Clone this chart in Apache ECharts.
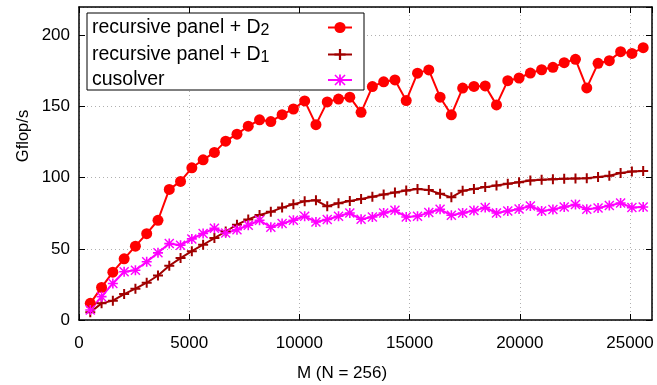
<!DOCTYPE html>
<html>
<head>
<meta charset="utf-8">
<script src="https://cdn.jsdelivr.net/npm/echarts@6/dist/echarts.min.js"></script>
<style>html,body{margin:0;padding:0;background:#fff}#c{width:657px;height:385px}</style>
</head>
<body>
<div id="c"></div>
<script>
const M = [512,1024,1536,2048,2560,3072,3584,4096,4608,5120,5632,6144,6656,7168,7680,8192,8704,9216,9728,10240,10752,11264,11776,12288,12800,13312,13824,14336,14848,15360,15872,16384,16896,17408,17920,18432,18944,19456,19968,20480,20992,21504,22016,22528,23040,23552,24064,24576,25088,25600];
const d2 = [11.7,22.9,33.6,43.0,51.9,60.7,70.1,91.8,97.4,107.0,112.6,117.8,125.7,130.6,136.2,140.7,139.5,144.3,148.3,154.0,137.3,153.3,155.3,156.6,146.0,164.1,167.4,168.7,154.2,173.5,175.8,156.6,144.2,163.0,164.2,164.5,151.2,168.2,170.1,173.6,175.9,177.6,180.9,183.2,163.1,180.4,182.3,188.6,187.4,191.4];
const d1 = [5.5,11.7,13.6,18.2,22.0,26.2,31.3,38.1,43.5,48.4,52.9,57.6,62.2,67.0,70.7,73.8,76.0,79.0,81.3,83.4,84.1,79.9,82.0,83.6,85.0,86.6,88.2,89.6,91.0,92.1,91.3,88.8,86.2,90.8,92.0,93.4,94.6,95.8,96.9,98.1,98.6,99.0,99.3,99.5,99.7,100.5,101.4,103.3,104.4,104.7];
const cus = [7.0,16.4,25.7,33.9,35.0,40.9,47.2,53.7,52.6,57.0,60.8,64.5,61.2,63.4,66.6,70.1,65.2,67.8,70.1,72.9,68.9,70.6,72.9,75.2,70.8,72.4,75.2,77.1,72.4,73.0,75.5,77.8,73.6,75.2,76.9,79.0,75.2,76.6,78.0,80.1,76.6,77.6,79.4,81.1,77.8,78.7,80.4,82.2,79.0,79.4];
const xTicks = [0,5000,10000,15000,20000,25000];
const yTicks = [0,50,100,150,200];
const names = ['recursive panel + D2','recursive panel + D1','cusolver'];
const legendMain = ['recursive panel + D','recursive panel + D','cusolver'];
const legendSub = ['2','1',''];

const FONT = 'Liberation Sans';
const LEG_FS = 19.5, SUB_FS = 16, TEXT_W = 231;
const ctx = document.createElement('canvas').getContext('2d');
function tw(t, s){ ctx.font = s + 'px "' + FONT + '"'; return ctx.measureText(t).width; }
const rich = {
  a:{fontSize:LEG_FS, lineHeight:22, fontFamily:FONT, color:'#000'},
  s:{fontSize:SUB_FS, lineHeight:16, padding:[7,0,0,0], fontFamily:FONT, color:'#000'}
};
const labelMap = {};
names.forEach((n,i)=>{
  const w = TEXT_W - tw(legendMain[i], LEG_FS) - (legendSub[i] ? tw(legendSub[i], SUB_FS) : 0);
  rich['p'+i] = {width:Math.max(1,w), fontSize:LEG_FS, lineHeight:22};
  labelMap[n] = '{a|' + legendMain[i] + '}' + (legendSub[i] ? '{s|' + legendSub[i] + '}' : '') + '{p' + i + '| }';
});

const plusPath = 'path://M4,0h2v10h-2zM0,4h10v2h-10z';
const starPath = 'path://M4.2,0h1.6v10h-1.6zM0,4.2h10v1.6h-10zM1,0L10,9L9,10L0,1ZM9,0L10,1L1,10L0,9Z';

function pairs(ys){ return M.map((x,i)=>[x, ys[i]]); }

const chart = echarts.init(document.getElementById('c'), null, {renderer:'canvas'});
const gridLine = {show:true, lineStyle:{color:'#b0b0b0', type:[1,3], width:1}};
const axisLineStyle = {show:true, onZero:false, lineStyle:{color:'#000', width:1.5}};
const tickStyle = {show:true, inside:true, length:6, lineStyle:{color:'#000'}};
chart.setOption({
  animation:false,
  backgroundColor:'#fff',
  textStyle:{fontFamily:FONT},
  grid:{left:79, right:5, top:7, bottom:65, outerBoundsMode:'none'},
  graphic:[
    {type:'text', x:23, y:136, rotation:Math.PI/2, style:{text:'Gflop/s', fontSize:16.5, fontFamily:FONT, fill:'#000', align:'center', verticalAlign:'middle'}},
    {type:'text', x:342, y:373, style:{text:'M (N = 256)', fontSize:17, fontFamily:FONT, fill:'#000', align:'center', verticalAlign:'middle'}}
  ],
  legend:{
    data:names, orient:'vertical', align:'right', left:87, top:13,
    backgroundColor:'#fff', borderColor:'#000', borderWidth:1, borderRadius:0,
    padding:[3,11,0,5], itemWidth:24, itemHeight:14, itemGap:4,
    formatter:(n)=>labelMap[n],
    textStyle:{fontSize:LEG_FS, color:'#000', fontFamily:FONT, rich:rich}
  },
  xAxis:[
    {type:'value', min:0, max:26000, interval:5000, position:'bottom',
     axisLine:axisLineStyle, axisTick:tickStyle,
     axisLabel:{fontSize:17, color:'#000', margin:15, showMaxLabel:false, fontFamily:FONT,
       formatter:(v)=> xTicks.includes(v) ? String(v) : ''},
     splitLine:gridLine},
    {type:'value', min:0, max:26000, interval:5000, position:'top',
     axisLine:axisLineStyle, axisTick:tickStyle, axisLabel:{show:false}, splitLine:{show:false}}
  ],
  yAxis:[
    {type:'value', min:0, max:220, interval:50, position:'left',
     axisLine:axisLineStyle, axisTick:tickStyle,
     axisLabel:{fontSize:17, color:'#000', margin:9, showMaxLabel:false, fontFamily:FONT,
       formatter:(v)=> yTicks.includes(v) ? String(v) : ''},
     splitLine:gridLine},
    {type:'value', min:0, max:220, interval:50, position:'right',
     axisLine:axisLineStyle, axisTick:tickStyle, axisLabel:{show:false}, splitLine:{show:false}}
  ],
  series:[
    {name:names[0], type:'line', data:pairs(d2), symbol:'circle', symbolSize:11, showAllSymbol:true,
     itemStyle:{color:'#ff0000'}, lineStyle:{color:'#ff0000', width:2}},
    {name:names[1], type:'line', data:pairs(d1), symbol:plusPath, symbolSize:10, showAllSymbol:true,
     itemStyle:{color:'#a00000'}, lineStyle:{color:'#a00000', width:2}},
    {name:names[2], type:'line', data:pairs(cus), symbol:starPath, symbolSize:10, showAllSymbol:true,
     itemStyle:{color:'#ff00ff'}, lineStyle:{color:'#ff00ff', width:2}}
  ]
});
</script>
</body>
</html>
